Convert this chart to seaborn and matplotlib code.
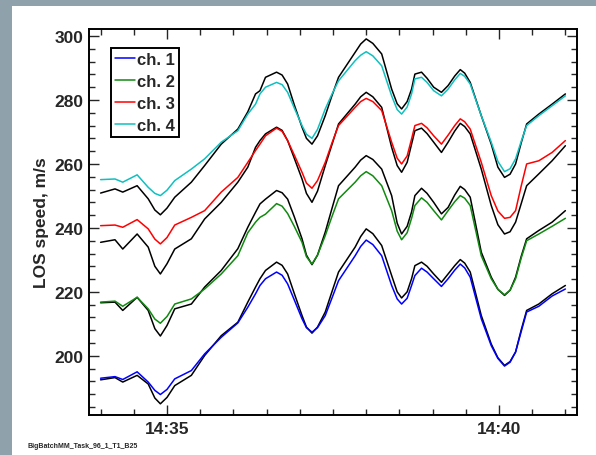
import numpy as np
import pandas as pd
import matplotlib
matplotlib.use("Agg")
import matplotlib.pyplot as plt
import matplotlib.dates as mdates
from matplotlib.patches import Rectangle
import seaborn as sns

# seconds after 14:34:00
seconds = [0, 13, 20, 33, 43, 49, 54, 60, 67, 82, 94, 109, 124, 133, 140, 144, 149, 159,
           164, 169, 175, 182, 186, 191, 196, 203, 209, 215, 230, 235, 240, 246, 254, 263,
           268, 272, 277, 281, 284, 290, 295, 301, 308, 314, 320, 325, 329, 334, 344, 353,
           359, 365, 370, 375, 380, 385, 396, 408, 420]

ch1 = [193.0, 193.5, 192.6, 195.0, 191.8, 189.2, 187.9, 189.5, 192.8, 195.4, 200.6, 205.8,
       210.3, 215.2, 219.4, 222.0, 224.1, 226.2, 225.2, 222.5, 217.5, 211.6, 208.8, 207.4,
       208.8, 212.6, 218.0, 223.5, 231.3, 234.2, 236.2, 234.8, 231.3, 222.0, 217.8, 216.2,
       218.0, 222.0, 225.1, 227.4, 226.2, 224.1, 221.7, 224.1, 226.8, 228.7, 227.5, 224.6,
       211.6, 203.2, 199.2, 196.8, 198.0, 201.2, 207.5, 213.7, 215.5, 218.7, 220.9]
fit1 = [192.5, 193.2, 191.8, 193.9, 191.2, 186.8, 185.0, 187.0, 190.7, 193.9, 200.1, 206.3,
        210.5, 216.8, 221.5, 224.1, 226.7, 229.3, 228.3, 225.6, 219.5, 212.6, 209.0, 207.1,
        209.0, 213.7, 220.0, 226.2, 234.0, 237.3, 239.7, 238.2, 234.5, 225.1, 220.0, 218.1,
        220.0, 224.1, 228.2, 229.3, 228.0, 225.6, 223.0, 225.6, 228.2, 230.1, 229.0, 226.2,
        212.6, 203.7, 199.4, 197.0, 198.2, 201.2, 208.0, 214.2, 216.2, 219.4, 222.0]

ch2 = [216.8, 217.1, 215.5, 218.3, 214.7, 211.5, 210.2, 212.3, 216.2, 217.8, 220.9, 225.6,
       231.3, 238.5, 241.8, 243.3, 244.3, 247.6, 246.8, 244.5, 240.5, 235.5, 231.0, 228.7,
       231.5, 237.6, 243.5, 249.1, 254.3, 256.3, 257.6, 256.3, 253.2, 245.4, 239.0, 236.3,
       238.5, 243.0, 247.0, 249.4, 248.0, 245.4, 242.5, 245.4, 248.2, 250.1, 249.3, 247.0,
       231.3, 224.1, 220.8, 219.1, 220.5, 224.1, 230.5, 236.0, 238.1, 240.5, 243.0]
fit2 = [216.6, 216.8, 214.2, 218.3, 214.2, 208.5, 206.2, 209.5, 214.7, 216.2, 221.5, 226.7,
        233.5, 240.2, 244.9, 247.5, 249.0, 251.7, 251.0, 249.0, 243.5, 236.6, 231.5, 228.5,
        231.5, 238.7, 246.0, 253.2, 259.0, 261.2, 262.6, 261.4, 258.4, 250.1, 241.5, 238.1,
        240.5, 245.0, 250.1, 252.4, 250.8, 248.0, 244.4, 246.4, 250.3, 253.0, 252.0, 249.6,
        232.4, 224.6, 220.8, 218.9, 220.5, 224.6, 231.0, 236.6, 239.2, 241.8, 245.4]

ch3 = [240.7, 240.9, 240.2, 242.6, 239.7, 236.5, 235.0, 237.0, 240.9, 243.3, 245.4, 251.2,
       255.8, 260.5, 264.2, 266.2, 268.8, 271.2, 270.2, 267.3, 262.8, 257.4, 254.0, 252.4,
       254.8, 260.5, 266.5, 272.0, 277.7, 279.5, 280.5, 279.5, 276.7, 266.8, 261.8, 260.0,
       262.5, 267.8, 272.0, 272.7, 271.3, 268.8, 266.2, 269.0, 272.0, 274.1, 273.2, 270.9,
       260.5, 250.1, 245.3, 243.0, 243.3, 245.4, 253.0, 260.0, 261.0, 263.6, 267.3]
fit3 = [235.5, 236.3, 233.4, 238.1, 234.0, 228.0, 225.6, 228.8, 233.4, 236.6, 242.8, 248.0,
        254.3, 259.0, 265.2, 267.3, 269.4, 271.5, 270.5, 267.3, 261.8, 255.3, 250.8, 248.0,
        251.5, 259.5, 266.0, 272.5, 278.7, 281.0, 282.4, 281.0, 277.7, 265.2, 259.5, 257.4,
        260.5, 266.2, 270.4, 271.2, 269.5, 266.8, 263.6, 266.8, 270.3, 272.7, 271.7, 269.4,
        258.4, 247.0, 241.0, 238.1, 238.8, 241.8, 247.5, 253.2, 256.9, 261.0, 265.7]

ch4 = [255.1, 255.3, 254.3, 256.6, 252.7, 250.8, 250.1, 251.8, 254.8, 258.4, 261.6, 266.8,
       270.4, 275.6, 278.7, 281.9, 284.0, 285.5, 284.8, 282.4, 277.5, 272.0, 269.3, 268.0,
       270.8, 277.2, 281.8, 286.0, 292.3, 294.0, 295.1, 293.8, 290.7, 281.3, 277.0, 275.6,
       277.8, 281.9, 286.6, 287.1, 285.5, 282.9, 281.3, 283.4, 286.3, 288.3, 287.4, 285.0,
       275.1, 266.8, 260.8, 257.6, 258.5, 261.6, 267.0, 272.0, 275.1, 278.2, 281.3]
fit4 = [250.9, 252.2, 251.2, 253.2, 249.1, 245.6, 244.1, 246.2, 249.6, 254.3, 259.5, 266.2,
        270.9, 276.3, 281.9, 282.9, 287.1, 288.7, 287.8, 285.0, 278.5, 271.5, 268.0, 266.2,
        268.8, 275.1, 281.3, 287.1, 294.9, 297.5, 299.1, 297.7, 294.4, 283.4, 278.8, 277.2,
        279.5, 283.4, 288.1, 288.7, 286.8, 284.0, 282.4, 284.5, 287.5, 289.5, 288.4, 285.5,
        275.1, 266.2, 259.0, 255.8, 256.8, 260.0, 266.5, 272.5, 275.6, 278.7, 281.9]

labels = ["ch. 1", "ch. 2", "ch. 3", "ch. 4"]
colors = ["#0000ff", "#108a10", "#ff0000", "#10c0c0"]

t0 = pd.Timestamp("2000-01-01 14:34:00")
times = t0 + pd.to_timedelta(seconds, unit="s")

sns.set_style("ticks")
plt.rcParams["font.family"] = ["Liberation Sans", "DejaVu Sans"]
plt.rcParams["font.weight"] = "bold"

fig = plt.figure(figsize=(5.96, 4.56), dpi=100)
fig.patch.set_facecolor("#8fa2ac")
fig.add_artist(Rectangle((12 / 596, 0), 1, 1 - 7 / 456, transform=fig.transFigure,
                         facecolor="white", edgecolor="none", zorder=-5))

ax = fig.add_axes([89 / 596, 1 - 416 / 456, 488 / 596, 386 / 456])
ax.set_zorder(1)

for fit in [fit1, fit2, fit3, fit4]:
    sns.lineplot(x=times, y=fit, color="black", lw=1.1, ax=ax)
for vals, lab, col in zip([ch1, ch2, ch3, ch4], labels, colors):
    sns.lineplot(x=times, y=vals, color=col, lw=1.1, label=lab, ax=ax)
for ln in ax.lines:
    ln.set_solid_joinstyle("round")

ax.set_xlim(pd.Timestamp("2000-01-01 14:33:49.5"), pd.Timestamp("2000-01-01 14:41:10.5"))
ax.set_ylim(181.5, 302.2)

ax.xaxis.set_major_locator(mdates.MinuteLocator(byminute=[35, 40]))
ax.xaxis.set_minor_locator(mdates.SecondLocator(bysecond=[0, 30]))
ax.xaxis.set_major_formatter(mdates.DateFormatter("%H:%M"))
ax.set_yticks(np.arange(200, 301, 20))
ax.set_yticks(np.arange(184, 303, 4), minor=True)

ax.tick_params(which="both", direction="in", top=True, right=True, width=1.0,
               labelsize=12.5, pad=4)
ax.tick_params(which="major", length=7)
ax.tick_params(which="minor", length=4)
for s in ax.spines.values():
    s.set_linewidth(1.4)
    s.set_color("black")

ax.set_xlabel("")
ax.set_ylabel("LOS speed, m/s", fontsize=12.5, fontweight="bold", labelpad=4)

leg = ax.legend(loc="upper left", bbox_to_anchor=(0.045, 0.952), borderaxespad=0,
                fontsize=12, handlelength=1.2, handletextpad=0.1, labelspacing=0.42,
                borderpad=0.25, fancybox=False, framealpha=1, edgecolor="black")
leg.get_frame().set_linewidth(1.4)

fig.text(28 / 596, 1 - 447 / 456, "BigBatchMM_Task_96_1_T1_B25", fontsize=5,
         fontweight="bold", va="center")

fig.savefig("out.png", dpi=100, facecolor=fig.get_facecolor())
